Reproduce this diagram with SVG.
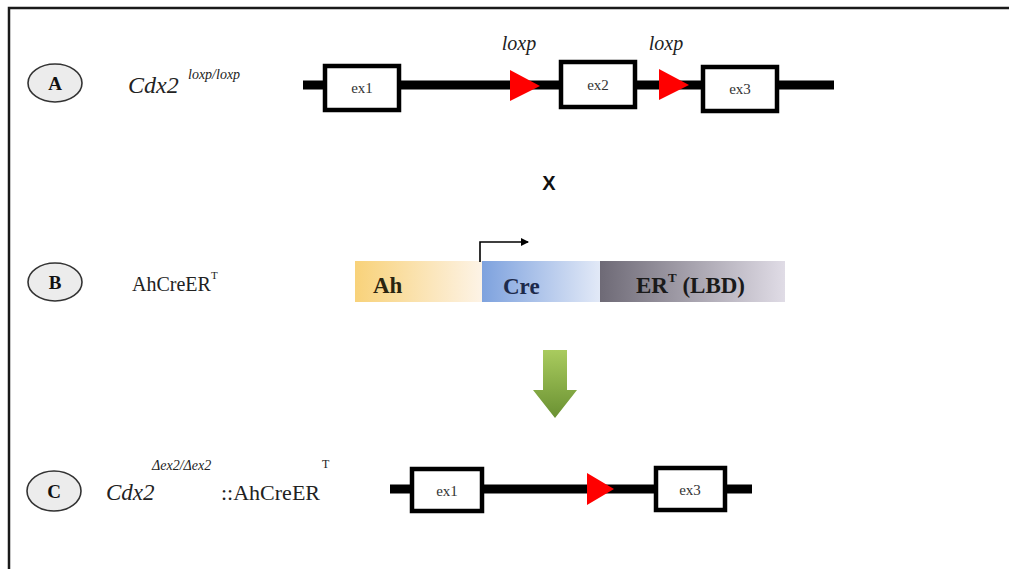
<svg xmlns="http://www.w3.org/2000/svg" width="1009" height="569" viewBox="0 0 1009 569">
<style>
.lbl{fill:#ececec;stroke:#333;stroke-width:1.6}
.lt{font-family:"Liberation Serif",serif;font-weight:bold;font-size:19px;fill:#111;text-anchor:middle}
.ex{fill:#fff;stroke:#000;stroke-width:4.5}
.ext{font-family:"Liberation Serif",serif;font-size:15px;fill:#333;text-anchor:middle}
.dna{stroke:#000;stroke-width:9;fill:none}
.lox{fill:#f00}
.it{font-family:"Liberation Serif",serif;font-style:italic;fill:#222}
.rm{font-family:"Liberation Serif",serif;fill:#222}
.seg{font-family:"Liberation Serif",serif;font-weight:bold;font-size:23px}
</style>
<defs>
<linearGradient id="gAh" x1="0" x2="1" y1="0" y2="0"><stop offset="0" stop-color="#f8d27a"/><stop offset="1" stop-color="#fdf3e6"/></linearGradient>
<linearGradient id="gCre" x1="0" x2="1" y1="0" y2="0"><stop offset="0" stop-color="#7ea2de"/><stop offset="1" stop-color="#e2e9f7"/></linearGradient>
<linearGradient id="gER" x1="0" x2="1" y1="0" y2="0"><stop offset="0" stop-color="#6e6a76"/><stop offset="1" stop-color="#e0dce6"/></linearGradient>
<linearGradient id="gGreen" x1="0" x2="0" y1="0" y2="1"><stop offset="0" stop-color="#a9cb5e"/><stop offset="1" stop-color="#6a9132"/></linearGradient>
<marker id="ah" markerWidth="8" markerHeight="8" refX="7" refY="4" orient="auto" markerUnits="userSpaceOnUse"><path d="M0,0 L8,4 L0,8 Z" fill="#000"/></marker>
</defs>
<rect width="1009" height="569" fill="#fff"/>
<path d="M9,569 V8 H1009" fill="none" stroke="#1a1a1a" stroke-width="2.5"/>

<g id="rowA">
<ellipse class="lbl" cx="55" cy="83" rx="27" ry="19"/>
<text class="lt" x="55" y="90">A</text>
<text class="it" x="128" y="93" font-size="24">Cdx2</text>
<text class="it" x="188" y="79" font-size="14">loxp/loxp</text>
</g>

<g id="geneA">
<line class="dna" x1="303" y1="85" x2="834" y2="85"/>
<rect class="ex" x="325" y="66" width="74" height="44"/>
<text class="ext" x="362" y="93">ex1</text>
<rect class="ex" x="561" y="62" width="74" height="45"/>
<text class="ext" x="598" y="90">ex2</text>
<rect class="ex" x="703" y="67" width="74" height="44"/>
<text class="ext" x="740" y="94">ex3</text>
<polygon class="lox" points="510,70 540,86 510,101"/>
<polygon class="lox" points="659,69 689,85 659,100"/>
<text class="it" x="519" y="50" font-size="20" text-anchor="middle">loxp</text>
<text class="it" x="666" y="50" font-size="20" text-anchor="middle">loxp</text>
</g>

<g id="cross">
<text x="549" y="190" font-family="Liberation Sans,sans-serif" font-weight="bold" font-size="20" text-anchor="middle" fill="#111">X</text>
</g>

<g id="rowB">
<ellipse class="lbl" cx="55" cy="282" rx="27" ry="19"/>
<text class="lt" x="55" y="289">B</text>
<text class="rm" x="132" y="291" font-size="20">AhCreER<tspan font-size="11" dy="-12">T</tspan></text>
</g>

<g id="construct">
<rect x="355" y="261" width="127" height="41" fill="url(#gAh)"/>
<rect x="482" y="261" width="118" height="41" fill="url(#gCre)"/>
<rect x="600" y="261" width="185" height="41" fill="url(#gER)"/>
<text class="seg" x="373" y="293" fill="#2a2410">Ah</text>
<text class="seg" x="503" y="294" fill="#1d2a4a">Cre</text>
<text class="seg" x="636" y="293" fill="#1a1a1a">ER<tspan font-size="13" dy="-11">T</tspan><tspan dy="11"> (LBD)</tspan></text>
</g>

<g id="connectors">
<path d="M480,262 V242 H528" fill="none" stroke="#000" stroke-width="1.6" marker-end="url(#ah)"/>
<path d="M543,350 H567 V390 H577 L555,418 L533,390 H543 Z" fill="url(#gGreen)"/>
</g>

<g id="rowC">
<ellipse class="lbl" cx="54" cy="491" rx="27" ry="20"/>
<text class="lt" x="54" y="498">C</text>
<text class="it" x="106" y="500" font-size="23">Cdx2</text>
<text class="it" x="152" y="470" font-size="14">Δex2/Δex2</text>
<text class="rm" x="221" y="500" font-size="22">::AhCreER</text>
<text class="rm" x="322" y="468" font-size="12">T</text>
</g>

<g id="geneC">
<line class="dna" x1="390" y1="489" x2="752" y2="489"/>
<rect class="ex" x="412" y="469" width="70" height="42"/>
<text class="ext" x="447" y="496">ex1</text>
<rect class="ex" x="656" y="468" width="69" height="42"/>
<text class="ext" x="690" y="495">ex3</text>
<polygon class="lox" points="587,473 614,489 587,505"/>
</g>
</svg>
